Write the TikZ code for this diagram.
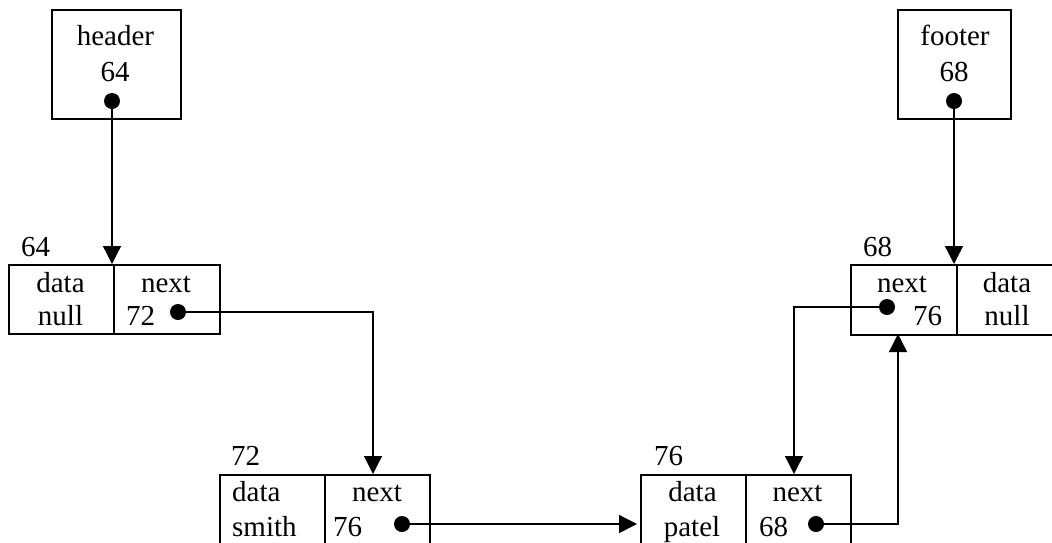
\documentclass[tikz,border=0pt]{standalone}
\usepackage{fontspec}
\setmainfont{Liberation Serif}
\usetikzlibrary{arrows.meta}
\begin{document}
\begin{tikzpicture}[x=1pt,y=-1pt,
  box/.style={draw, line width=1.6pt, rectangle, inner sep=0pt, anchor=north west},
  txt/.style={inner sep=0pt, anchor=base, font=\fontsize{29}{34}\selectfont},
  txtl/.style={txt, anchor=base west},
  dot/.style={circle, fill=black, inner sep=0pt, minimum size=16pt},
  ptr/.style={line width=1.3pt, -{Triangle[length=18pt,width=18pt]}},
]
\useasboundingbox (0,0) rectangle (1052,542);
\clip (0,0) rectangle (1052,542);

% head and tail reference boxes
\node[box, minimum width=129pt, minimum height=109pt] (header) at (51,9) {};
\node[box, minimum width=113pt, minimum height=109pt] (footer) at (897,9) {};
\node[txt] (headerT) at (115.5,45.7) {header};
\node[txt] (headerV) at (115,81.7) {64};
\node[txt] (footerT) at (955,45.7) {footer};
\node[txt] (footerV) at (954,81.7) {68};

% list cells
\node[box, minimum width=105pt, minimum height=69pt] (n64d) at (8,264) {};
\node[box, minimum width=106pt, minimum height=69pt] (n64n) at (113,264) {};
\node[box, minimum width=105pt, minimum height=72pt] (n72d) at (219,474) {};
\node[box, minimum width=105pt, minimum height=72pt] (n72n) at (324,474) {};
\node[box, minimum width=105pt, minimum height=72pt] (n76d) at (640,474) {};
\node[box, minimum width=105pt, minimum height=72pt] (n76n) at (745,474) {};
\node[box, minimum width=106pt, minimum height=70pt] (n68n) at (850,264) {};
\node[box, minimum width=104pt, minimum height=70pt] (n68d) at (956,264) {};

% addresses above the cells
\node[txtl] (a64) at (21,256) {64};
\node[txtl] (a72) at (231,465) {72};
\node[txtl] (a76) at (654,465) {76};
\node[txtl] (a68) at (863,256) {68};

% cell contents
\node[txt] (t64d1) at (60.5,292.7) {data};
\node[txt] (t64d2) at (60.5,325) {null};
\node[txt] (t64n1) at (166,292.7) {next};
\node[txtl] (t64n2) at (126,325) {72};

\node[txtl] (t72d1) at (232,501.7) {data};
\node[txtl] (t72d2) at (232,536.7) {smith};
\node[txt] (t72n1) at (377,501.7) {next};
\node[txtl] (t72n2) at (333,536.7) {76};

\node[txt] (t76d1) at (692.5,501.7) {data};
\node[txt] (t76d2) at (692,536.7) {patel};
\node[txt] (t76n1) at (797.5,501.7) {next};
\node[txtl] (t76n2) at (759,536.7) {68};

\node[txt] (t68n1) at (902,292.7) {next};
\node[txtl] (t68n2) at (913,325) {76};
\node[txt] (t68d1) at (1007,292.7) {data};
\node[txt] (t68d2) at (1007,325) {null};

% pointer dots
\node[dot] (dh) at (112,101) {};
\node[dot] (df) at (954,101) {};
\node[dot] (d64) at (178,312) {};
\node[dot] (d72) at (402,524) {};
\node[dot] (d76) at (816,524) {};
\node[dot] (d68) at (887,307) {};

% arrow targets
\coordinate (in72) at (373,474);
\coordinate (in76) at (794,474);
\coordinate (in68) at (898,334);

% pointers
\draw[ptr] (dh.center) -- (dh.center |- n64n.north);
\draw[ptr] (df.center) -- (df.center |- n68n.north);
\draw[ptr] (d64.center) -| (in72);
\draw[ptr, shorten >=3pt] (d72.center) -- (d72.center -| n76d.west);
\draw[ptr] (d76.center) -| (in68);
\draw[ptr] (d68.center) -| (in76);
\end{tikzpicture}
\end{document}
